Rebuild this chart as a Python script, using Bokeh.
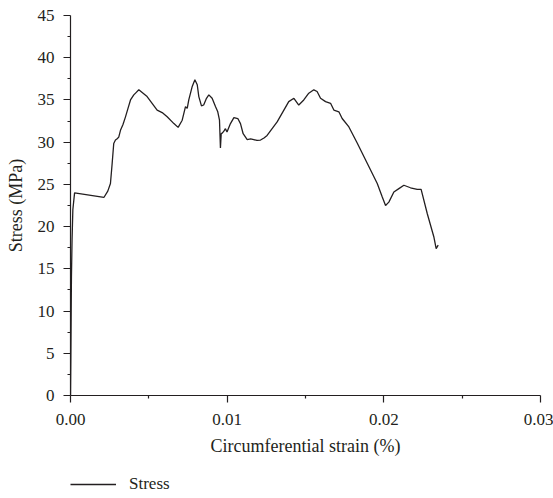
from bokeh.plotting import figure
from bokeh.layouts import column
from bokeh.models import FixedTicker, Range1d, Legend, LegendItem, NumeralTickFormatter
from bokeh.embed import file_html
from bokeh.resources import INLINE

strain = [0.0, 0.00002, 0.00004, 0.00006, 0.0001, 0.00015, 0.00026,
          0.00213, 0.00238, 0.00255, 0.00266, 0.00276, 0.00287, 0.00298, 0.00308,
          0.00319, 0.00335, 0.00351, 0.00367, 0.00383, 0.00404, 0.0042, 0.00436,
          0.00489, 0.00553, 0.00585, 0.00617, 0.0066, 0.00687,
          0.00713, 0.00734, 0.00745, 0.00755, 0.00777, 0.00794, 0.00809, 0.00819,
          0.00836, 0.0085, 0.00868, 0.00883, 0.00904, 0.00926, 0.0094, 0.00951,
          0.00957, 0.00962, 0.0097, 0.00979, 0.00989, 0.00999, 0.01021, 0.01043,
          0.01068, 0.01085, 0.01102, 0.01128, 0.0115, 0.0117, 0.0119, 0.01213,
          0.01235, 0.01255, 0.01287, 0.01319, 0.01362, 0.01393, 0.01426, 0.01457,
          0.01489, 0.01521, 0.01553, 0.01574, 0.01596, 0.01628, 0.0166, 0.01681,
          0.01713, 0.01734, 0.01777, 0.0183, 0.01894, 0.01958, 0.0199, 0.02011,
          0.02032, 0.02064, 0.02096, 0.02128, 0.0217, 0.02213, 0.02238, 0.02277,
          0.02319, 0.02334, 0.02347]
stress = [0.0, 4.0, 9.0, 14.0, 18.5, 22.0, 24.0,
          23.45, 24.2, 25.1, 27.5, 29.85, 30.25, 30.4, 30.6,
          31.4, 32.1, 33.0, 34.0, 35.0, 35.6, 35.9, 36.2,
          35.4, 33.8, 33.5, 33.0, 32.2, 31.75,
          32.6, 34.2, 34.0, 35.0, 36.6, 37.4, 36.8, 35.4,
          34.3, 34.4, 35.2, 35.6, 35.2, 34.2, 33.6, 32.6,
          29.3, 31.0, 31.1, 31.3, 31.6, 31.2, 32.2, 32.9,
          32.8, 32.2, 31.0, 30.3, 30.4, 30.3, 30.2, 30.25,
          30.5, 30.8, 31.6, 32.4, 33.8, 34.8, 35.2, 34.4,
          35.0, 35.8, 36.2, 36.0, 35.2, 34.8, 34.6, 33.8,
          33.6, 32.8, 31.8, 29.9, 27.5, 25.1, 23.5, 22.5,
          22.9, 24.1, 24.5, 24.9, 24.6, 24.4, 24.4, 21.55,
          18.8, 17.4, 17.8]

x_ticks = [0.0, 0.01, 0.02, 0.03]
x_minor = [0.005, 0.015, 0.025]
y_ticks = [0, 5, 10, 15, 20, 25, 30, 35, 40, 45]
y_minor = [2.5, 7.5, 12.5, 17.5, 22.5, 27.5, 32.5, 37.5, 42.5]
series_name = "Stress"

FONT = "Liberation Serif"
INK = "#231f20"

p = figure(width=553, height=460, output_backend="svg", toolbar_location=None,
           x_range=Range1d(0, 0.03), y_range=Range1d(0, 45),
           min_border_left=70, min_border_right=13, min_border_top=15, min_border_bottom=65)
p.outline_line_color = None
p.xgrid.visible = False
p.ygrid.visible = False

r = p.line(strain, stress, line_color=INK, line_width=1.3)

p.xaxis.ticker = FixedTicker(ticks=x_ticks, minor_ticks=x_minor)
p.yaxis.ticker = FixedTicker(ticks=y_ticks, minor_ticks=y_minor)
p.xaxis.formatter = NumeralTickFormatter(format="0.00")
p.xaxis.axis_label = "Circumferential strain (%)"
p.yaxis.axis_label = "Stress (MPa)"
for ax in (p.xaxis, p.yaxis):
    ax.axis_line_color = INK
    ax.axis_line_width = 1.2
    ax.major_tick_line_color = INK
    ax.minor_tick_line_color = INK
    ax.major_tick_line_width = 1.2
    ax.minor_tick_line_width = 1.2
    ax.major_tick_in = 0
    ax.major_tick_out = 7
    ax.minor_tick_in = 0
    ax.minor_tick_out = 3
    ax.major_label_text_font = FONT
    ax.major_label_text_font_size = "17px"
    ax.major_label_text_color = INK
    ax.axis_label_text_font = FONT
    ax.axis_label_text_font_size = "18px"
    ax.axis_label_text_font_style = "normal"
    ax.axis_label_text_color = INK
p.xaxis.major_label_standoff = 11
p.xaxis.axis_label_standoff = 8
p.yaxis.major_label_standoff = 9
p.yaxis.axis_label_standoff = 9

# legend strip under the chart (its frame is aligned with the chart's frame)
lf = figure(width=553, height=38, output_backend="svg", toolbar_location=None,
            x_range=Range1d(0, 0.03), y_range=Range1d(100, 110),
            x_axis_location=None, y_axis_location=None,
            min_border_left=0, min_border_right=0, min_border_top=0, min_border_bottom=0)
lf.outline_line_color = None
lf.xgrid.visible = False
lf.ygrid.visible = False
key = lf.line(strain, stress, line_color=INK, line_width=1.3)
legend = Legend(items=[LegendItem(label=series_name, renderers=[key])],
                location=(0, 4), orientation="horizontal",
                border_line_color=None, background_fill_alpha=0,
                glyph_width=46, label_standoff=13, padding=0, margin=0,
                label_text_font=FONT, label_text_font_size="17px", label_text_color=INK)
lf.add_layout(legend, "center")

layout = column(p, lf, spacing=0)
open("out.html", "w").write(file_html(layout, INLINE))
